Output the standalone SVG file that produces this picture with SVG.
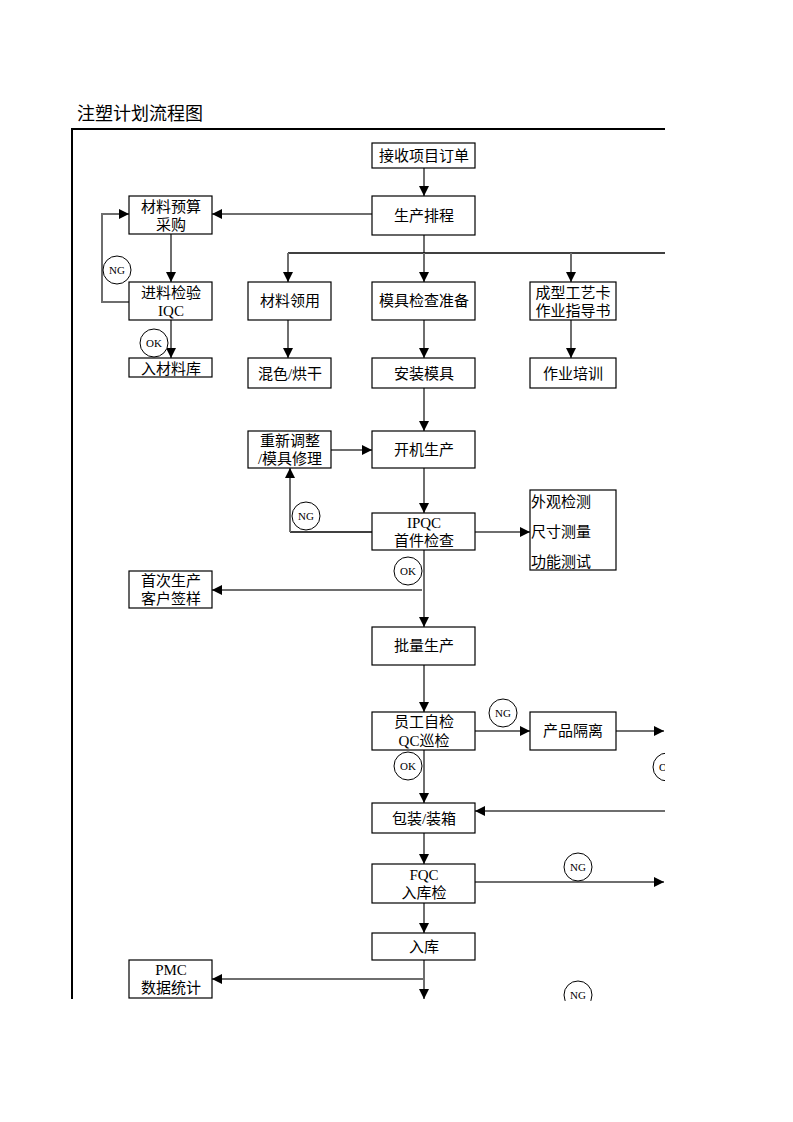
<svg xmlns="http://www.w3.org/2000/svg" width="793" height="1122" viewBox="0 0 793 1122">
<style>
.box{fill:#fff;stroke:#000;stroke-width:1.2}
.t{font-family:"Liberation Serif","Noto Sans CJK SC",serif;font-size:15px;fill:#000;text-anchor:middle}
.tl{font-family:"Liberation Serif","Noto Sans CJK SC",serif;font-size:15px;fill:#000}
.c{fill:#fff;stroke:#000;stroke-width:1}
.ct{font-family:"Liberation Serif",serif;font-size:11px;fill:#000;text-anchor:middle}
.g{fill:none;stroke:#6e6e6e;stroke-width:2}
.k{fill:none;stroke:#000;stroke-width:1.3}
</style>
<defs>
<marker id="a" viewBox="0 0 10 10" refX="10" refY="5" markerWidth="10" markerHeight="10" markerUnits="userSpaceOnUse" orient="auto"><path d="M0,0 L10,5 L0,10 z" fill="#000"/></marker>
<clipPath id="clip"><rect x="0" y="0" width="665" height="1001"/></clipPath>
</defs>
<rect width="793" height="1122" fill="#fff"/>
<text x="77" y="120" style="font-family:'Liberation Serif','Noto Sans CJK SC',serif;font-size:18px;fill:#000">注塑计划流程图</text>
<g clip-path="url(#clip)">
<g id="frame">
<path d="M72,999 V129 H665" fill="none" stroke="#000" stroke-width="2"/>
</g>
<g id="connectors">
<path class="g" d="M424,168 V196" marker-end="url(#a)"/>
<path class="g" d="M372,214 H212" marker-end="url(#a)"/>
<path class="g" d="M424,235 V253"/>
<path class="k" d="M288,253 H665"/>
<path class="g" d="M288,253 V282" marker-end="url(#a)"/>
<path class="g" d="M424,253 V282" marker-end="url(#a)"/>
<path class="g" d="M571,253 V282" marker-end="url(#a)"/>
<path class="g" d="M171,234 V282" marker-end="url(#a)"/>
<path class="g" d="M129,302 H102 V214 H129" marker-end="url(#a)"/>
<path class="g" d="M171,320 V358" marker-end="url(#a)"/>
<path class="g" d="M288,320 V358" marker-end="url(#a)"/>
<path class="g" d="M424,320 V358" marker-end="url(#a)"/>
<path class="g" d="M571,320 V358" marker-end="url(#a)"/>
<path class="g" d="M424,388 V431" marker-end="url(#a)"/>
<path class="g" d="M331,450 H372" marker-end="url(#a)"/>
<path class="g" d="M424,468 V513" marker-end="url(#a)"/>
<path class="k" d="M372,532 H290"/>
<path class="g" d="M290,532 V468" marker-end="url(#a)"/>
<path class="g" d="M475,532 H530" marker-end="url(#a)"/>
<path class="g" d="M424,550 V627" marker-end="url(#a)"/>
<path class="g" d="M422,590 H212" marker-end="url(#a)"/>
<path class="g" d="M424,665 V712" marker-end="url(#a)"/>
<path class="g" d="M475,731 H530" marker-end="url(#a)"/>
<path class="g" d="M616,731 H664" marker-end="url(#a)"/>
<path class="g" d="M424,750 V803" marker-end="url(#a)"/>
<path class="g" d="M665,811 H475" marker-end="url(#a)"/>
<path class="g" d="M424,833 V864" marker-end="url(#a)"/>
<path class="g" d="M475,882 H664" marker-end="url(#a)"/>
<path class="g" d="M424,903 V933" marker-end="url(#a)"/>
<path class="g" d="M424,960 V999" marker-end="url(#a)"/>
<path class="g" d="M424,979 H212" marker-end="url(#a)"/>
<circle class="c" cx="117" cy="270" r="14"/><text class="ct" x="117" y="274">NG</text>
<circle class="c" cx="154" cy="343" r="14"/><text class="ct" x="154" y="347">OK</text>
<circle class="c" cx="306" cy="516" r="14"/><text class="ct" x="306" y="520">NG</text>
<circle class="c" cx="408" cy="571" r="14"/><text class="ct" x="408" y="575">OK</text>
<circle class="c" cx="503" cy="713" r="14"/><text class="ct" x="503" y="717">NG</text>
<circle class="c" cx="408" cy="766" r="14"/><text class="ct" x="408" y="770">OK</text>
<circle class="c" cx="667" cy="767" r="14"/><text class="ct" x="667" y="771">OK</text>
<circle class="c" cx="578" cy="867" r="14"/><text class="ct" x="578" y="871">NG</text>
<circle class="c" cx="578" cy="995" r="14"/><text class="ct" x="578" y="999">NG</text>
</g>
<g id="n1"><rect class="box" x="372" y="143" width="103" height="25"/><text class="t" x="424" y="161">接收项目订单</text></g>
<g id="n2"><rect class="box" x="372" y="196" width="103" height="39"/><text class="t" x="424" y="221">生产排程</text></g>
<g id="n3"><rect class="box" x="129" y="196" width="83" height="38"/><text class="t" x="171" y="212">材料预算</text><text class="t" x="171" y="230">采购</text></g>
<g id="n4"><rect class="box" x="129" y="282" width="83" height="38"/><text class="t" x="171" y="298">进料检验</text><text class="t" x="171" y="316">IQC</text></g>
<g id="n5"><rect class="box" x="129" y="358" width="83" height="19"/><text class="t" x="171" y="374">入材料库</text></g>
<g id="n6"><rect class="box" x="248" y="282" width="83" height="38"/><text class="t" x="290" y="306">材料领用</text></g>
<g id="n7"><rect class="box" x="372" y="282" width="103" height="38"/><text class="t" x="424" y="306">模具检查准备</text></g>
<g id="n8"><rect class="box" x="530" y="282" width="86" height="38"/><text class="t" x="573" y="298">成型工艺卡</text><text class="t" x="573" y="316">作业指导书</text></g>
<g id="n9"><rect class="box" x="248" y="358" width="83" height="30"/><text class="t" x="290" y="379">混色/烘干</text></g>
<g id="n10"><rect class="box" x="372" y="358" width="103" height="30"/><text class="t" x="424" y="379">安装模具</text></g>
<g id="n11"><rect class="box" x="530" y="358" width="86" height="30"/><text class="t" x="573" y="379">作业培训</text></g>
<g id="n12"><rect class="box" x="248" y="431" width="83" height="37"/><text class="t" x="290" y="446">重新调整</text><text class="t" x="290" y="464">/模具修理</text></g>
<g id="n13"><rect class="box" x="372" y="431" width="103" height="37"/><text class="t" x="424" y="455">开机生产</text></g>
<g id="n14"><rect class="box" x="372" y="513" width="103" height="37"/><text class="t" x="424" y="528">IPQC</text><text class="t" x="424" y="546">首件检查</text></g>
<g id="n15"><rect class="box" x="530" y="490" width="86" height="80"/><text class="tl" x="531" y="507">外观检测</text><text class="tl" x="531" y="537">尺寸测量</text><text class="tl" x="531" y="567">功能测试</text></g>
<g id="n16"><rect class="box" x="129" y="571" width="83" height="37"/><text class="t" x="171" y="586">首次生产</text><text class="t" x="171" y="604">客户签样</text></g>
<g id="n17"><rect class="box" x="372" y="627" width="103" height="38"/><text class="t" x="424" y="651">批量生产</text></g>
<g id="n18"><rect class="box" x="372" y="712" width="103" height="38"/><text class="t" x="424" y="727">员工自检</text><text class="t" x="424" y="746">QC巡检</text></g>
<g id="n19"><rect class="box" x="530" y="712" width="86" height="38"/><text class="t" x="573" y="736">产品隔离</text></g>
<g id="n20"><rect class="box" x="372" y="803" width="103" height="30"/><text class="t" x="424" y="824">包装/装箱</text></g>
<g id="n21"><rect class="box" x="372" y="864" width="103" height="39"/><text class="t" x="424" y="880">FQC</text><text class="t" x="424" y="898">入库检</text></g>
<g id="n22"><rect class="box" x="372" y="933" width="103" height="27"/><text class="t" x="424" y="952">入库</text></g>
<g id="n23"><rect class="box" x="129" y="960" width="83" height="38"/><text class="t" x="171" y="975">PMC</text><text class="t" x="171" y="993">数据统计</text></g>
</g>
</svg>
